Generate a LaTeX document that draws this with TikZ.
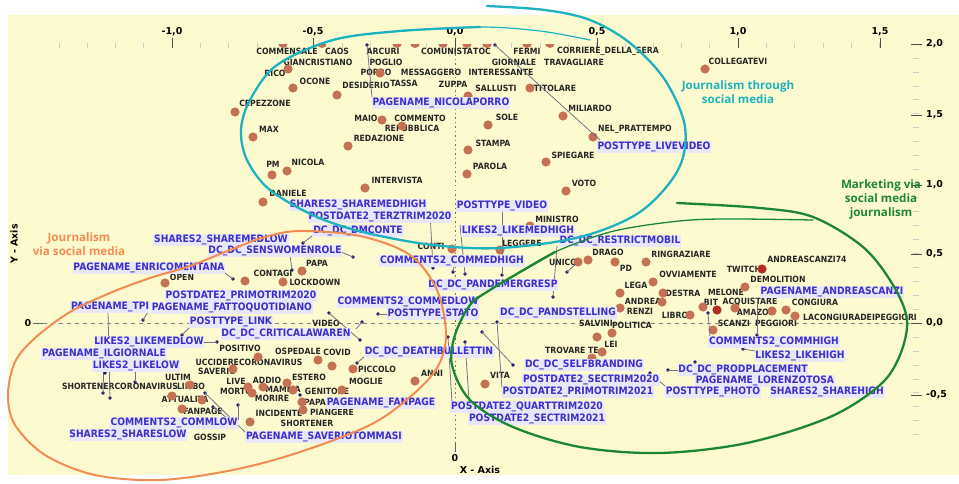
\documentclass[tikz,border=0pt]{standalone}
\usepackage{fontspec}
\setmainfont{DejaVu Sans}
\newfontfamily\labf{DejaVu Sans}[FakeStretch=0.9]
\newfontfamily\grpf{Open Sans}
\definecolor{bgy}{RGB}{253,250,208}
\definecolor{dotc}{RGB}{198,112,84}
\definecolor{dotr}{RGB}{180,45,35}
\definecolor{bluet}{RGB}{62,48,200}
\definecolor{halo}{RGB}{232,232,250}
\definecolor{navyc}{RGB}{25,25,110}
\definecolor{linec}{RGB}{115,115,140}
\definecolor{cyanc}{RGB}{30,178,192}
\definecolor{orc}{RGB}{243,140,80}
\definecolor{grc}{RGB}{28,135,50}
\tikzset{
  w/.style={font=\labf\bfseries\fontsize{8.6}{9}\selectfont, text=black!85, inner sep=0pt},
  b/.style={font=\labf\bfseries\fontsize{10.2}{11}\selectfont, text=bluet, fill=halo, inner sep=0.8pt},
  nd/.style={circle, fill=navyc, inner sep=0pt, minimum size=3.6pt},
  ax/.style={font=\bfseries\fontsize{9.5}{10}\selectfont, inner sep=0pt},
  grp/.style={font=\grpf\bfseries\fontsize{11.6}{13}\selectfont, inner sep=0pt},
  conn/.style={linec, line width=0.8pt}
}
\begin{document}
\begin{tikzpicture}[x=1pt,y=-1pt]
\useasboundingbox (0,0) rectangle (959,484);
\fill[white] (0,0) rectangle (959,484);
\fill[bgy] (8,15) rectangle (959,475);
% top axis ticks
\foreach \k in {-14,...,15}{\draw[black!20, line width=0.6pt] ({455+28.3*\k},43) -- ({455+28.3*\k},48);}
\foreach \xx/\lab [count=\i] in {172/{-1,0},313/{-0,5},455/{0,0},597/{0,5},738/{1,0},880/{1,5}}{
  \draw[black!70, line width=0.7pt] (\xx,38) -- (\xx,48);
  \node[ax] (tx\i) at (\xx,32) {\lab};}
% right axis ticks
\foreach \k in {-8,...,19}{\draw[black!20, line width=0.6pt] (913,{323-13.95*\k}) -- (919,{323-13.95*\k});}
\foreach \yy/\lab [count=\i] in {44/{2,0},115/{1,5},185/{1,0},254/{0,5},323/{0,0},395/{-0,5}}{
  \draw[black!70, line width=0.8pt] (911,\yy) -- (922,\yy);
  \node[ax, anchor=west] (ty\i) at (926,\yy) {\lab};}
% zero lines
\node[ax] (z0) at (28,323) {0};
\draw[black!60, line width=0.7pt] (33,323) -- (43,323);
\draw[black!50, line width=0.7pt, dash pattern=on 4pt off 4pt] (43,323) -- (910,323);
\draw[black!55, line width=0.9pt, dash pattern=on 1.5pt off 3pt] (455,50) -- (455,443);
\draw[black!60, line width=0.7pt] (455,443) -- (455,452);
\node[ax] (z1) at (455,458) {0};
\node[ax] (xlab) at (480,470) {X - Axis};
\node[ax, rotate=90] (ylab) at (14,244) {Y - Axis};
% black word labels
\foreach \x/\y/\t [count=\i] in {287/51/COMMENSALE,337/51/CAOS,383/51/ARCURI,447/51/COMUNISTA,482/51/TOC,527/51/FERMI,608/51/CORRIERE\_DELLA\_SERA,318/62/GIANCRISTIANO,386/62/POGLIO,514/62/GIORNALE,574/62/TRAVAGLIARE,738/61/COLLEGATEVI,275/73/RICO,376/72/PORRO,431/72/MESSAGGERO,501/72/INTERESSANTE,315/81/OCONE,366/85/DESIDERIO,404/83/TASSA,453/84/ZUPPA,496/88/SALLUSTI,555/88/TITOLARE,265/103/CEPEZZONE,590/108/MILIARDO,366/118/MAIO,420/118/COMMENTO,507/117/SOLE,269/129/MAX,412/128/REPUBBLICA,635/129/NEL\_PRATTEMPO,379/138/REDAZIONE,493/143/STAMPA,573/155/SPIEGARE,273/164/PM,308/162/NICOLA,490/166/PAROLA,397/180/INTERVISTA,584/183/VOTO,288/193/DANIELE,557/219/MINISTRO,431/246/CONTI,522/243/LEGGERE,608/252/DRAGO,681/254/RINGRAZIARE,563/262/UNICO,626/268/PD,807/259/ANDREASCANZI74,317/263/PAPA,273/273/CONTAGI,315/282/LOCKDOWN,182/277/OPEN,688/274/OVVIAMENTE,744/269/TWITCH,778/279/DEMOLITION,636/285/LEGA,683/293/DESTRA,726/292/MELONE,643/301/ANDREA,711/302/BIT,750/302/ACQUISTARE,815/302/CONGIURA,640/311/RENZI,675/315/LIBRO,756/312/AMAZON,860/317/LACONGIURADEIPEGGIORI,326/323/VIDEO,596/323/SALVINI,632/325/POLITICA,734/323/SCANZI,776/323/PEGGIORI,611/344/LEI,240/348/POSITIVO,298/351/OSPEDALE,337/352/COVID,572/350/TROVARE TE,249/362/UCCIDERECORONAVIRUS,377/369/PICCOLO,432/373/ANNI,500/375/VITA,217/371/SAVERIO,178/377/ULTIM,236/381/LIVE,267/380/ADDIO,309/377/ESTERO,366/381/MOGLIE,120/386/SHORTENERCORONAVIRUS,191/386/LIMBO,236/391/MORTO,283/389/MAMMA,327/391/GENITORE,185/399/ATTUALITA,272/398/MORIRE,315/402/PAPA,203/411/FANPAGE,279/413/INCIDENTE,332/412/PIANGERE,307/423/SHORTENER,210/437/GOSSIP}
  {\node[w] (w\i) at (\x,\y) {\t};}
% brown dots
\begin{scope}
\clip (0,44.5) rectangle (959,60);
\foreach \x in {283,322,397,415,443,467,487,527,550}{\fill[dotc] (\x,43) circle (5);}
\end{scope}
\foreach \x/\y in {288/69,293/88,337/95,380/73,235/112,468/96,530/88,563/116,488/125,382/120,402/126,253/137,348/146,468/150,593/137,546/162,272/175,287/171,467/174,365/188,566/191,263/202,530/226,500/250,452/249,705/69,578/262,588/260,615/262,646/262,653/282,745/287,620/293,663/293,662/302,620/308,690/315,703/307,735/308,772/311,786/310,795/316,713/330,597/337,612/333,602/352,592/358,165/283,245/281,283/282,302/271,258/357,318/360,332/366,353/369,415/381,485/384,233/369,190/385,172/396,248/387,263/387,287/383,293/390,302/402,303/410,252/393,202/400,182/409,250/422,342/390}
  {\fill[dotc] (\x,\y) circle (4.6);}
\fill[dotr] (762,269) circle (4.6);
\fill[dotr] (717,310) circle (4.6);
% connectors (navy dot -> label end)
\foreach \ax/\ay/\bx/\by [count=\i] in {367/45/372/97,495/45/600/140,433/268/430/212,465/274/460/225,502/275/502/212,303/243/312/236,353/257/341/252,292/270/290/255,233/279/222/271,567/272/576/264,553/297/557/246,329/313/360/340,362/322/356/329,378/314/389/314,143/320/148/312,110/398/108/312,103/393/104/360,182/335/190/327,217/342/204/342,357/363/365/356,497/322/502/388,482/332/513/365,448/337/452/403,465/342/470/414,668/370/679/370,695/362/697/376,650/373/665/386,708/313/710/337,757/335/757/298,743/349/755/351,205/393/245/432,238/405/238/420,213/407/227/418,453/272/455/262,135/382/135/372}
  {\node[nd] (n\i) at (\ax,\ay) {};
   \coordinate (c\i) at (\bx,\by);
   \draw[conn] (n\i.center) -- (c\i);}
\draw[conn] (135,372) -- (122,369);
\node[nd] (m1) at (360,340) {};
\node[nd] (m2) at (513,365) {};
\node[nd] (m3) at (105,373) {};
\node[nd] (m4) at (300,395) {};
% blue labels
\foreach \x/\y/\t [count=\i] in {441/103/PAGENAME\_NICOLAPORRO,654/147/POSTTYPE\_LIVEVIDEO,358/205/SHARES2\_SHAREMEDHIGH,502/206/POSTTYPE\_VIDEO,380/217/POSTDATE2\_TERZTRIM2020,358/231/DC\_DC\_DMCONTE,518/231/LIKES2\_LIKEMEDHIGH,221/240/SHARES2\_SHAREMEDLOW,620/241/DC\_DC\_RESTRICTMOBIL,275/251/DC\_DC\_SENSWOMENROLE,452/261/COMMENTS2\_COMMEDHIGH,149/268/PAGENAME\_ENRICOMENTANA,493/285/DC\_DC\_PANDEMERGRESP,832/292/PAGENAME\_ANDREASCANZI,241/296/POSTDATE2\_PRIMOTRIM2020,408/302/COMMENTS2\_COMMEDLOW,110/307/PAGENAME\_TPI,232/308/PAGENAME\_FATTOQUOTIDIANO,433/314/POSTTYPE\_STATO,558/313/DC\_DC\_PANDSTELLING,231/322/POSTTYPE\_LINK,286/334/DC\_DC\_CRITICALAWAREN,149/342/LIKES2\_LIKEMEDLOW,774/342/COMMENTS2\_COMMHIGH,104/354/PAGENAME\_ILGIORNALE,429/352/DC\_DC\_DEATHBULLETTIN,800/356/LIKES2\_LIKEHIGH,136/366/LIKES2\_LIKELOW,584/365/DC\_DC\_SELFBRANDING,743/370/DC\_DC\_PRODPLACEMENT,591/380/POSTDATE2\_SECTRIM2020,765/381/PAGENAME\_LORENZOTOSA,578/392/POSTDATE2\_PRIMOTRIM2021,713/392/POSTTYPE\_PHOTO,827/392/SHARES2\_SHAREHIGH,381/403/PAGENAME\_FANPAGE,527/407/POSTDATE2\_QUARTTRIM2020,537/419/POSTDATE2\_SECTRIM2021,174/423/COMMENTS2\_COMMLOW,128/435/SHARES2\_SHARESLOW,324/437/PAGENAME\_SAVERIOTOMMASI}
  {\node[b] (b\i) at (\x,\y) {\t};}
% group outlines
\draw[cyanc, line width=2.3pt, line cap=round] plot[smooth, tension=0.55] coordinates {(487,6) (545,10) (590,20) (630,43) (665,80) (685,127) (678,170) (640,212) (580,237) (500,248) (433,245) (367,233) (317,217) (270,190) (247,160) (241,130) (250,100) (277,65) (333,40) (400,31) (480,27)};
\draw[cyanc, line width=1.2pt, line cap=round] plot[smooth, tension=0.55] coordinates {(400,31) (480,27) (540,31) (590,40)};
\draw[orc, line width=2pt] plot[smooth cycle, tension=0.55] coordinates {(300,231) (360,236) (410,255) (437,290) (446,335) (437,368) (410,397) (370,425) (300,452) (233,470) (160,480) (95,475) (45,455) (15,425) (8,395) (15,362) (35,338) (70,312) (110,293) (150,278) (190,266) (230,250) (265,237)};
\draw[grc, line width=2.3pt, line cap=round] plot[smooth, tension=0.55] coordinates {(677,203) (760,208) (813,217) (863,247) (893,285) (907,320) (900,355) (880,385) (830,417) (747,443) (660,453) (580,447) (513,427) (470,400) (452,365) (455,335) (470,305) (490,290) (515,275) (555,252)};
\draw[grc, line width=1.3pt, line cap=round] plot[smooth, tension=0.55] coordinates {(515,275) (555,252) (610,232) (670,222) (720,219) (813,220)};
% group titles
\node[grp, text=cyanc, align=center] (g1) at (738,92) {Journalism through\\[1pt]social media};
\node[grp, text=orc, align=center] (g2) at (79,244) {Journalism\\[1pt]via social media};
\node[grp, text=grc, align=center] (g3) at (881,199) {Marketing via\\[1pt]social media\\[1pt]journalism};
\end{tikzpicture}
\end{document}
